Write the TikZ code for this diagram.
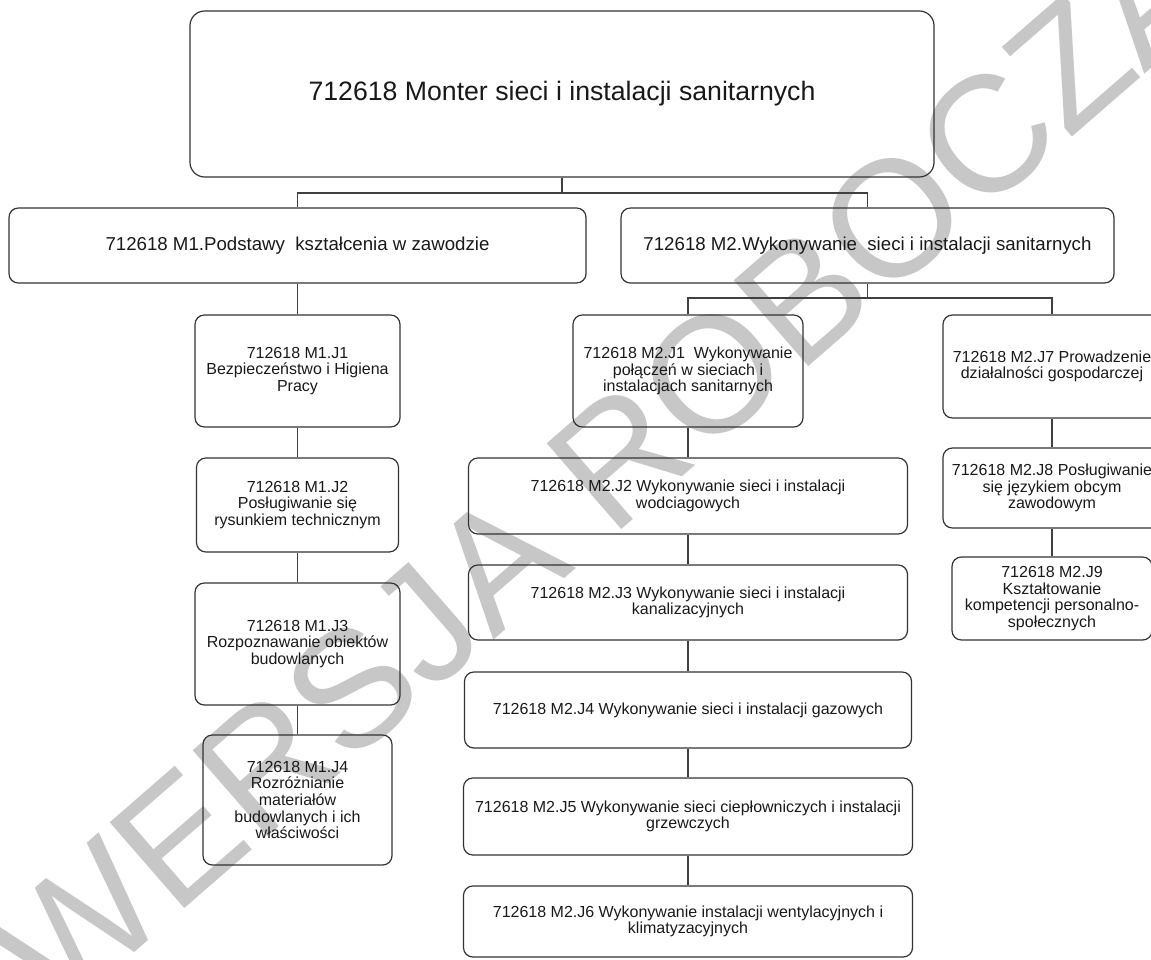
\documentclass[tikz,border=0pt]{standalone}
\usepackage{fontspec}
\setmainfont{Liberation Sans}
\begin{document}
\begin{tikzpicture}[x = 0.75pt, y = -0.75pt,
    box/.style = {draw = black!80, line width = 0.9pt, rounded corners = 7pt, align = center, inner sep = 1pt, text = black!90, font = \fontsize{12}{12.5}\selectfont},
    link/.style = {draw = black!75, line width = 0.9pt}]
    \useasboundingbox (0,0) rectangle (1151,959);
    \clip (0,0) rectangle (1151,959);
    \node[rotate = 41, text = black!22, font = \fontsize{124}{124}\selectfont] (wm) at (605,468) {WERSJA ROBOCZA};

    \node[box, minimum width = 558pt, minimum height = 124.5pt, rounded corners = 11pt, font = \fontsize{20}{24}\selectfont] (top) at (562,94) {712618 Monter sieci i instalacji sanitarnych};
    \node[box, minimum width = 432.75pt, minimum height = 56.25pt, font = \fontsize{14}{16}\selectfont] (m1) at (297.5,245.5) {712618 M1.Podstawy\ \ kształcenia w zawodzie};
    \node[box, minimum width = 369.75pt, minimum height = 56.25pt, font = \fontsize{14}{16}\selectfont] (m2) at (867.5,245.5) {712618 M2.Wykonywanie\ \ sieci i instalacji sanitarnych};

    \node[box, minimum width = 153.75pt, minimum height = 84pt] (m1j1) at (297.5,371) {712618 M1.J1\\Bezpieczeństwo i Higiena\\Pracy};
    \node[box, minimum width = 151.5pt, minimum height = 70.5pt] (m1j2) at (297.5,505) {712618 M1.J2\\Posługiwanie się\\rysunkiem technicznym};
    \node[box, minimum width = 153.75pt, minimum height = 91.5pt] (m1j3) at (297.5,644) {712618 M1.J3\\Rozpoznawanie obiektów\\budowlanych};
    \node[box, minimum width = 141.75pt, minimum height = 97.5pt] (m1j4) at (297.5,800) {712618 M1.J4\\Rozróżnianie\\materiałów\\budowlanych i ich\\właściwości};

    \node[box, minimum width = 172.5pt, minimum height = 84pt] (m2j1) at (688,371) {712618 M2.J1\ \ Wykonywanie\\połączeń w sieciach i\\instalacjach sanitarnych};
    \node[box, minimum width = 329.25pt, minimum height = 57pt] (m2j2) at (688,496) {712618 M2.J2 Wykonywanie sieci i instalacji\\wodciagowych};
    \node[box, minimum width = 329.25pt, minimum height = 56.25pt] (m2j3) at (688,602.5) {712618 M2.J3 Wykonywanie sieci i instalacji\\kanalizacyjnych};
    \node[box, minimum width = 335.25pt, minimum height = 57pt] (m2j4) at (688,710) {712618 M2.J4 Wykonywanie sieci i instalacji gazowych};
    \node[box, minimum width = 336.75pt, minimum height = 57.75pt] (m2j5) at (688,816.5) {712618 M2.J5 Wykonywanie sieci ciepłowniczych i instalacji\\grzewczych};
    \node[box, minimum width = 336.75pt, minimum height = 53.25pt] (m2j6) at (688,921.5) {712618 M2.J6 Wykonywanie instalacji wentylacyjnych i\\klimatyzacyjnych};

    \node[box, minimum width = 163.5pt, minimum height = 77.25pt] (m2j7) at (1052,366.5) {712618 M2.J7 Prowadzenie\\działalności gospodarczej};
    \node[box, minimum width = 163.5pt, minimum height = 60pt] (m2j8) at (1052,488) {712618 M2.J8 Posługiwanie\\się językiem obcym\\zawodowym};
    \node[box, minimum width = 150pt, minimum height = 62.25pt] (m2j9) at (1052,598.5) {712618 M2.J9\\Kształtowanie\\kompetencji personalno-\\społecznych};

    \coordinate (bus1) at (562,193);
    \coordinate (bus2) at (867.5,298);
    \draw[link] (top) -- (bus1) -| (m1);
    \draw[link] (bus1) -| (m2);
    \draw[link] (m2) -- (bus2) -| (m2j1);
    \draw[link] (bus2) -| (m2j7);
    \foreach \a/\b in {m1/m1j1, m1j1/m1j2, m1j2/m1j3, m1j3/m1j4, m2j1/m2j2, m2j2/m2j3, m2j3/m2j4, m2j4/m2j5, m2j5/m2j6, m2j7/m2j8, m2j8/m2j9}
        \draw[link] (\a) -- (\b);
\end{tikzpicture}
\end{document}
